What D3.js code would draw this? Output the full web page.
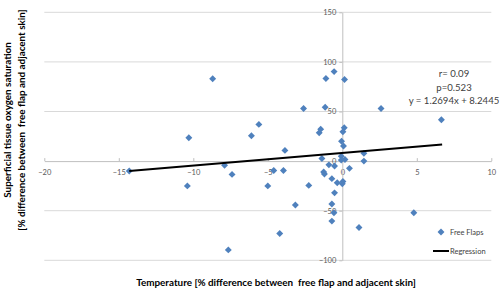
<!doctype html>
<head>
  <meta charset="utf-8">
  <script src="https://cdnjs.cloudflare.com/ajax/libs/d3/7.8.2/d3.min.js"></script>
</head>
<style>
    body { margin: 0; background: white; }
    text { font-family: Lato, "Open Sans", sans-serif; white-space: pre; }
</style>
<body>
    <div id="chart"></div>
    <script>
        // Datos: temperatura (x) y saturación de oxígeno (y), % diferencia
        const tempDiff = [
            -14.3, -10.4, -10.3, -8.7, -7.9, -7.4, -7.65, -6.1, -5.6, -5.0,
            -4.6, -4.2, -3.95, -3.85, -3.15, -2.6, -2.25, -1.55, -1.45, -1.15,
            -1.1, -0.55, -1.37, -1.25, -1.2, -0.9, -0.52, -0.7, -0.34, 0.04,
            0.0, -0.52, -0.7, -0.56, -0.7, 1.12, 4.8, 0.15, 2.6, 6.65,
            0.13, 0.04, -0.05, 0.08, 1.45, 1.45, -0.07, -0.07, 0.18, 0.48
        ];
        const oxyDiff = [
            -10, -25, 23.5, 83, -4.3, -13.4, -89.5, 25.5, 37, -25,
            -9.4, -73, -9.4, 10.8, -44.3, 53, -24.5, 28.6, 32.2, 54.3,
            83.2, 90.2, 2.6, -11, -13, -3.8, -5, -17.7, -21.8, -20.5,
            -22.8, -32, -43.3, -52, -60.5, -67, -52, 82.2, 53, 41.6,
            33.6, 29.6, 20.1, 15.3, 7.8, 0, 5, 1, 1.7, -7.3
        ];
        const xTicks = [-20, -15, -10, -5, 0, 5, 10];
        const yTicks = [-100, -50, 0, 50, 100, 150];
        const regSlope = 1.2694;
        const regIntercept = 8.2445;
        const regRange = [-14.3, 6.7];
        const statLines = ["r= 0.09", "p=0.523", "y = 1.2694x + 8.2445"];

        const points = tempDiff.map((t, i) => ({x: t, y: oxyDiff[i]}));

        const svg = d3.select('#chart')
            .append('svg')
            .attr('width', 500)
            .attr('height', 295);

        const x = d3.scaleLinear().domain([-20, 10]).range([44.3, 491.3]);
        const y = d3.scaleLinear().domain([-100, 150]).range([260.3, 12.3]);

        // Líneas de cuadrícula horizontales
        svg.append('g')
            .selectAll('line')
            .data(yTicks.filter(d => d !== 0))
            .enter()
            .append('line')
            .attr('x1', x.range()[0])
            .attr('x2', x.range()[1])
            .attr('y1', d => y(d))
            .attr('y2', d => y(d))
            .attr('stroke', '#d9d9d9')
            .attr('stroke-width', 1);

        // Eje X (cruza en y = 0)
        const xAxis = svg.append('g')
            .attr('transform', `translate(0,${y(0)})`)
            .call(d3.axisBottom(x).tickValues(xTicks).tickSizeInner(-3).tickSizeOuter(0).tickPadding(9));

        // Eje Y (cruza en x = 0)
        const yAxis = svg.append('g')
            .attr('transform', `translate(${x(0)},0)`)
            .call(d3.axisLeft(y).tickValues(yTicks).tickSizeInner(3).tickSizeOuter(0).tickPadding(3));

        [xAxis, yAxis].forEach(a => {
            a.select('.domain').attr('stroke', '#bfbfbf');
            a.selectAll('.tick line').attr('stroke', '#bfbfbf');
            a.selectAll('.tick text')
                .attr('fill', '#595959')
                .style('font-size', '7.5px');
        });

        // Puntos (rombos)
        const diamond = d3.symbol().type(d3.symbolSquare).size(24);
        svg.append('g')
            .selectAll('path')
            .data(points)
            .enter()
            .append('path')
            .attr('d', diamond)
            .attr('transform', d => `translate(${x(d.x)},${y(d.y)}) rotate(45)`)
            .attr('fill', '#4f81bd');

        // Recta de regresión
        const line = d3.line().x(d => x(d)).y(d => y(regSlope * d + regIntercept));
        svg.append('path')
            .datum(regRange)
            .attr('d', line)
            .attr('stroke', 'black')
            .attr('stroke-width', 2)
            .attr('fill', 'none');

        // Estadísticos
        svg.append('g')
            .selectAll('text')
            .data(statLines)
            .enter()
            .append('text')
            .attr('x', 454)
            .attr('y', (d, i) => 74 + i * 13.3)
            .attr('dy', '0.35em')
            .attr('text-anchor', 'middle')
            .attr('fill', '#404040')
            .style('font-size', '9.6px')
            .text(d => d);

        // Leyenda
        svg.append('path')
            .attr('d', diamond)
            .attr('transform', 'translate(441,232) rotate(45)')
            .attr('fill', '#4f81bd');
        svg.append('text')
            .attr('x', 450).attr('y', 232).attr('dy', '0.35em')
            .attr('fill', '#404040').style('font-size', '7.5px')
            .text('Free Flaps');
        svg.append('line')
            .attr('x1', 433).attr('x2', 449).attr('y1', 251).attr('y2', 251)
            .attr('stroke', 'black').attr('stroke-width', 2);
        svg.append('text')
            .attr('x', 450).attr('y', 251).attr('dy', '0.35em')
            .attr('fill', '#404040').style('font-size', '7.5px')
            .text('Regression');

        // Títulos de los ejes
        svg.append('text')
            .attr('x', 276).attr('y', 283).attr('dy', '0.35em')
            .attr('text-anchor', 'middle')
            .attr('font-weight', 'bold')
            .attr('fill', '#000')
            .style('font-size', '9.9px')
            .text('Temperature [% difference between  free flap and adjacent skin]');

        const yTitle = svg.append('text')
            .attr('transform', 'translate(8,120) rotate(-90)')
            .attr('text-anchor', 'middle')
            .attr('font-weight', 'bold')
            .attr('fill', '#000')
            .style('font-size', '9.9px');
        yTitle.append('tspan').attr('x', 0).attr('dy', '0.35em').text('Superficial tissue oxygen saturation');
        yTitle.append('tspan').attr('x', 0).attr('dy', '13.5').text('[% difference between  free flap and adjacent skin]');
    </script>
</body>
